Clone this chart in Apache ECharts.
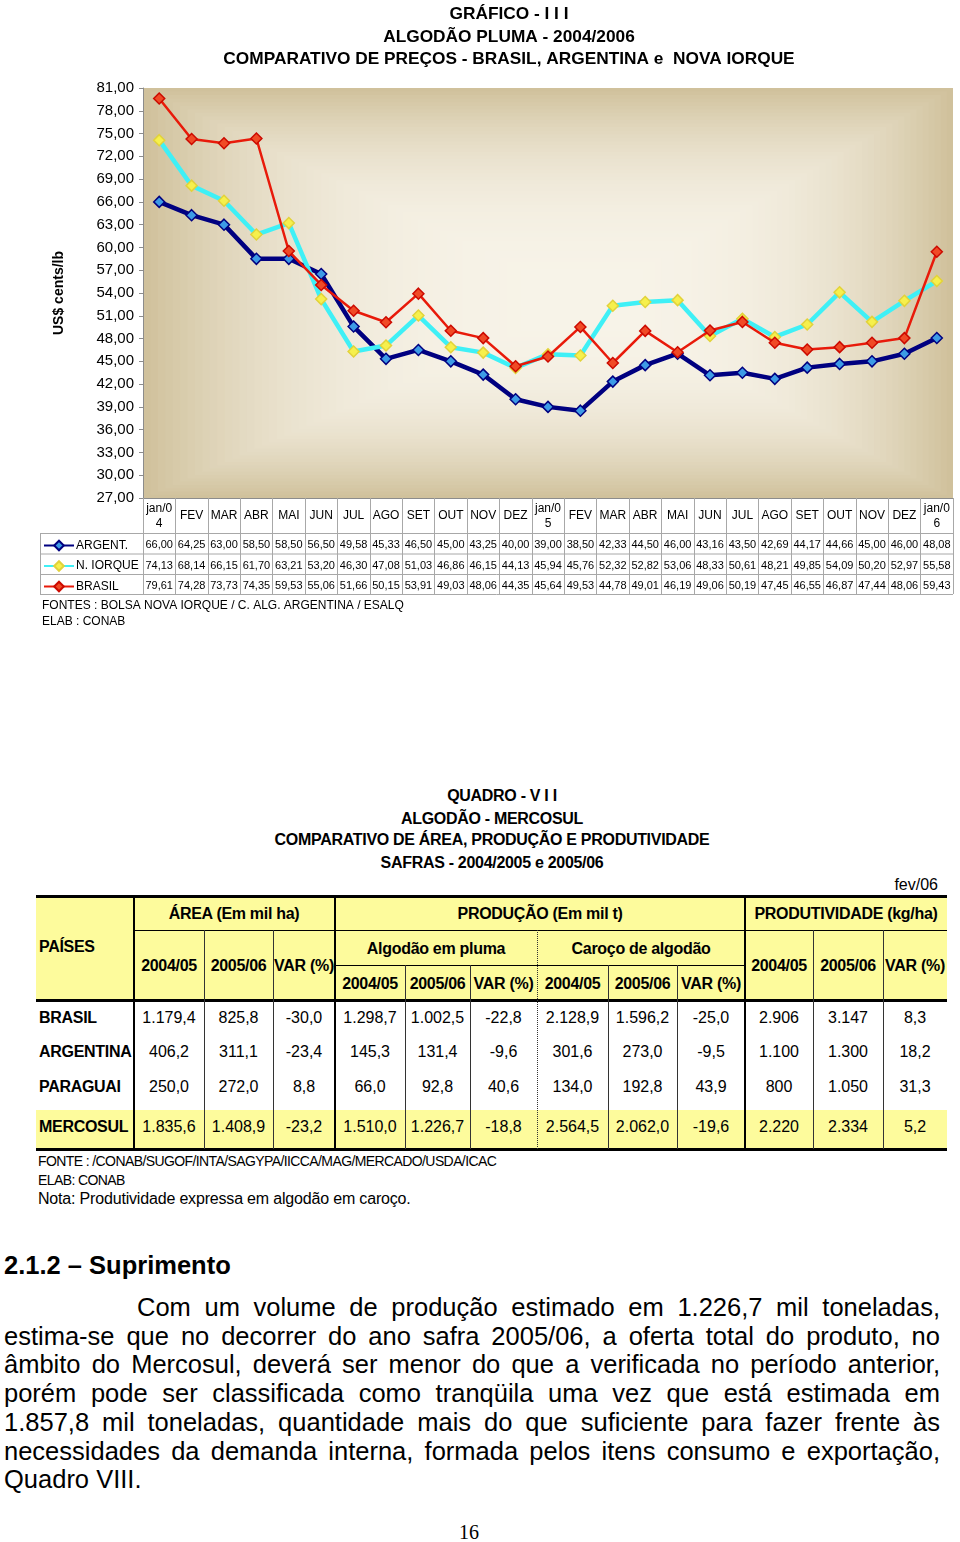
<!DOCTYPE html>
<html><head><meta charset="utf-8">
<script src="https://cdn.jsdelivr.net/npm/echarts@6/dist/echarts.min.js"></script>
<style>
body{margin:0;background:#fff;width:960px;height:1542px;position:relative;overflow:hidden;font-family:'Liberation Sans',Arial,sans-serif;color:#000}
#chart{position:absolute;left:0;top:0;width:960px;height:640px}
.t{position:absolute;white-space:nowrap;line-height:1}
.ln{position:absolute;background:#000}
</style></head><body>
<div id="chart"></div>
<div id="doc"></div>
<script>
// ---------- chart data ----------
const categories = ['jan/0\n4','FEV','MAR','ABR','MAI','JUN','JUL','AGO','SET','OUT','NOV','DEZ',
  'jan/0\n5','FEV','MAR','ABR','MAI','JUN','JUL','AGO','SET','OUT','NOV','DEZ','jan/0\n6'];
const argent = [66.00,64.25,63.00,58.50,58.50,56.50,49.58,45.33,46.50,45.00,43.25,40.00,39.00,38.50,42.33,44.50,46.00,43.16,43.50,42.69,44.17,44.66,45.00,46.00,48.08];
const novaIorque = [74.13,68.14,66.15,61.70,63.21,53.20,46.30,47.08,51.03,46.86,46.15,44.13,45.94,45.76,52.32,52.82,53.06,48.33,50.61,48.21,49.85,54.09,50.20,52.97,55.58];
const brasil = [79.61,74.28,73.73,74.35,59.53,55.06,51.66,50.15,53.91,49.03,48.06,44.35,45.64,49.53,44.78,49.01,46.19,49.06,50.19,47.45,46.55,46.87,47.44,48.06,59.43];
const seriesNames = ['ARGENT.','N. IORQUE','BRASIL'];
const yMin = 27, yMax = 81, yStep = 3;

// ---------- quadro data ----------
const paises = ['BRASIL','ARGENTINA','PARAGUAI'];
const area0405 = [1179.4, 406.2, 250.0];
const area0506 = [825.8, 311.1, 272.0];
const areaVar = [-30.0, -23.4, 8.8];
const pluma0405 = [1298.7, 145.3, 66.0];
const pluma0506 = [1002.5, 131.4, 92.8];
const plumaVar = [-22.8, -9.6, 40.6];
const caroco0405 = [2128.9, 301.6, 134.0];
const caroco0506 = [1596.2, 273.0, 192.8];
const carocoVar = [-25.0, -9.5, 43.9];
const prod0405 = [2906, 1100, 800];
const prod0506 = [3147, 1300, 1050];
const prodVar = [8.3, 18.2, 31.3];
const mercosul = [1835.6, 1408.9, -23.2, 1510.0, 1226.7, -18.8, 2564.5, 2062.0, -19.6, 2220, 2334, 5.2];

const FONT = "'Liberation Sans', Arial, sans-serif";
const fmt2 = v => v.toFixed(2).replace('.', ',');
function fmtBR(v, dec){
  const neg = v < 0; let s = Math.abs(v).toFixed(dec);
  let [i, d] = s.split('.');
  i = i.replace(/\B(?=(\d{3})+(?!\d))/g, '.');
  return (neg ? '-' : '') + i + (d !== undefined ? ',' + d : '');
}

const G = {left:143, top:88, width:810, height:410};
const chart = echarts.init(document.getElementById('chart'), null, {renderer:'canvas'});
const mk = (name, data, line, lw, fill, border, z) => ({
  name, type:'line', data, symbol:'diamond', symbolSize:11, z,
  lineStyle:{color:line, width:lw}, itemStyle:{color:fill, borderColor:border, borderWidth:1.5},
  emphasis:{disabled:true}
});
chart.setOption({
  animation:false,
  grid:{left:G.left, top:G.top, width:G.width, height:G.height},
  xAxis:{type:'category', data:categories, boundaryGap:true,
    axisLine:{lineStyle:{color:'#8c8c8c'}},
    axisTick:{show:true, interval:0, length:96, lineStyle:{color:'#a8a8a8'}},
    axisLabel:{interval:0, fontSize:12, lineHeight:15, color:'#000', fontFamily:FONT, margin:18, verticalAlign:'middle'}},
  yAxis:{type:'value', min:yMin, max:yMax, interval:yStep,
    name:'US$ cents/lb', nameLocation:'middle', nameGap:77, nameRotate:90,
    nameTextStyle:{fontWeight:'bold', fontSize:14, color:'#000', fontFamily:FONT},
    axisLine:{show:true, lineStyle:{color:'#8c8c8c'}},
    axisTick:{show:true, length:4, lineStyle:{color:'#8c8c8c'}},
    splitLine:{show:false},
    axisLabel:{formatter:v => fmt2(v), fontSize:15, color:'#000', fontFamily:FONT, margin:9}},
  legend:{orient:'vertical', left:43, top:539.5, itemWidth:30, itemHeight:12, itemGap:8.5, padding:0,
    selectedMode:false, data:seriesNames,
    textStyle:{fontSize:12, color:'#000', fontFamily:FONT, padding:[0,0,0,-3]}},
  series:[
    mk(seriesNames[0], argent, '#000080', 4.5, '#3d9be6', '#000080', 3),
    mk(seriesNames[1], novaIorque, '#3ff0f6', 4.5, '#f6f04c', '#e2d23a', 4),
    mk(seriesNames[2], brasil, '#e81a0a', 2.5, '#f04a26', '#cc0a00', 5)
  ]
});

// ---------- graphic: background, titles, data table ----------
const els = [];
const edge = [208,193,156], centre = [247,243,232];
const cx = G.left + G.width*0.55, cy = G.top + G.height*0.52;
const N = 60;
for (let k = 0; k < N; k++){
  const t = k/N;
  const e = 1 - Math.pow(1 - t, 2.8);
  const c = edge.map((a,j) => Math.round(a + (centre[j]-a)*e));
  const x1 = G.left + t*(cx - G.left), x2 = G.left + G.width - t*(G.left + G.width - cx);
  const y1 = G.top + t*(cy - G.top), y2 = G.top + G.height - t*(G.top + G.height - cy);
  els.push({type:'rect', z:-5, silent:true, shape:{x:x1, y:y1, width:x2-x1, height:y2-y1}, style:{fill:`rgb(${c})`}});
}
const titles = ['GRÁFICO - I I I','ALGODÃO PLUMA - 2004/2006','COMPARATIVO DE PREÇOS - BRASIL, ARGENTINA e  NOVA IORQUE'];
titles.forEach((s,i) => els.push({type:'text', x:509, y:14.5 + i*22.5, style:{text:s, fill:'#000', font:`bold 17.3px ${FONT}`, align:'center', verticalAlign:'middle'}}));
const rowY = [545, 565.5, 585.5];
const rowLines = [533.5, 554, 574.5, 594.5];
rowLines.forEach(y => els.push({type:'line', shape:{x1:40, y1:y, x2:G.left + G.width, y2:y}, style:{stroke:'#a8a8a8', lineWidth:1}}));
els.push({type:'line', shape:{x1:40.5, y1:rowLines[0], x2:40.5, y2:rowLines[3]}, style:{stroke:'#a8a8a8', lineWidth:1}});
[argent, novaIorque, brasil].forEach((arr, r) => {
  arr.forEach((v, i) => {
    const x = chart.convertToPixel({xAxisIndex:0}, i);
    els.push({type:'text', x, y:rowY[r], style:{text:fmt2(v), fill:'#000', font:`11px ${FONT}`, align:'center', verticalAlign:'middle'}});
  });
});
els.push({type:'text', x:42, y:606, style:{text:'FONTES : BOLSA NOVA IORQUE / C. ALG. ARGENTINA / ESALQ', fill:'#000', font:`12px ${FONT}`, align:'left', verticalAlign:'middle'}});
els.push({type:'text', x:42, y:622, style:{text:'ELAB : CONAB', fill:'#000', font:`12px ${FONT}`, align:'left', verticalAlign:'middle'}});
chart.setOption({graphic:{elements:els}});

// ---------- document part (quadro + text) ----------
const doc = document.getElementById('doc');
function txt(s, x, y, css, align){
  const d = document.createElement('div');
  d.className = 't'; d.textContent = s;
  d.style.left = x + 'px'; d.style.top = y + 'px';
  const tx = align === 'left' ? '0' : align === 'right' ? '-100%' : '-50%';
  d.style.transform = `translate(${tx},-50%)`;
  if (css) d.style.cssText += css;
  doc.appendChild(d); return d;
}
function rect(x, y, w, h, color, extra){
  const d = document.createElement('div');
  d.className = 'ln';
  d.style.cssText += `left:${x}px;top:${y}px;width:${w}px;height:${h}px;background:${color};` + (extra||'');
  doc.appendChild(d); return d;
}
const B16 = 'font-weight:bold;font-size:16px;letter-spacing:-0.3px;';
const R16 = 'font-size:16px;';
txt('QUADRO - V I I', 502, 796, B16);
txt('ALGODÃO - MERCOSUL', 492, 819, B16);
txt('COMPARATIVO DE ÁREA, PRODUÇÃO E PRODUTIVIDADE', 492, 840, B16);
txt('SAFRAS - 2004/2005 e 2005/06', 492, 863, B16);
txt('fev/06', 938, 885, R16, 'right');

const L = 36, R = 947;
const colX = [36,134,204,273,335,405,470,537,608,677,745,813,883,947];
const mid = i => (colX[i] + colX[i+1]) / 2;
rect(L, 896, R-L, 104, '#fdfb9c');
rect(L, 1110, R-L, 39, '#fdfb9c');
rect(L, 895, R-L, 2.5, '#000');
rect(134, 929.5, R-134, 1.5, '#000');
rect(335, 964.5, 745-335, 1.5, '#000');
rect(L, 999, R-L, 2.5, '#000');
rect(L, 1148, R-L, 2.5, '#000');
[134, 335, 745].forEach(x => rect(x-1, 896, 2, 1253-1000, '#000'));
[204, 273, 813, 883].forEach(x => rect(x-0.5, 930, 1, 1149-930, '#333'));
[405, 470, 608, 677].forEach(x => rect(x-0.5, 965, 1, 1149-965, '#333'));
rect(536.5, 930, 0, 1149-930, 'transparent', 'border-left:1px dotted #333;');
txt('PAÍSES', 39, 947, B16, 'left');
txt('ÁREA (Em mil ha)', 234, 914, B16);
txt('PRODUÇÃO (Em mil t)', 540, 914, B16);
txt('PRODUTIVIDADE (kg/ha)', 846, 914, B16);
txt('Algodão em pluma', 436, 949, B16);
txt('Caroço de algodão', 641, 949, B16);
const yrs = ['2004/05','2005/06','VAR (%)'];
[1,2,3].forEach((c,k) => txt(yrs[k], mid(c), 966, B16));
[4,5,6].forEach((c,k) => txt(yrs[k], mid(c), 984, B16));
[7,8,9].forEach((c,k) => txt(yrs[k], mid(c), 984, B16));
[10,11,12].forEach((c,k) => txt(yrs[k], mid(c), 966, B16));
const dataRowY = [1018, 1052, 1087];
paises.forEach((p, r) => {
  const vals = [fmtBR(area0405[r],1), fmtBR(area0506[r],1), fmtBR(areaVar[r],1),
    fmtBR(pluma0405[r],1), fmtBR(pluma0506[r],1), fmtBR(plumaVar[r],1),
    fmtBR(caroco0405[r],1), fmtBR(caroco0506[r],1), fmtBR(carocoVar[r],1),
    fmtBR(prod0405[r],0), fmtBR(prod0506[r],0), fmtBR(prodVar[r],1)];
  txt(p, 39, dataRowY[r], B16, 'left');
  vals.forEach((s, k) => txt(s, mid(k+1), dataRowY[r], R16));
});
txt('MERCOSUL', 39, 1127, B16, 'left');
mercosul.forEach((v, k) => {
  const dec = (k === 9 || k === 10) ? 0 : 1;
  txt(fmtBR(v, dec), mid(k+1), 1127, R16);
});
txt('FONTE : /CONAB/SUGOF/INTA/SAGYPA/IICCA/MAG/MERCADO/USDA/ICAC', 38, 1161, 'font-size:14px;letter-spacing:-0.6px;', 'left');
txt('ELAB: CONAB', 38, 1180, 'font-size:14px;letter-spacing:-0.6px;', 'left');
txt('Nota: Produtividade expressa em algodão em caroço.', 38, 1199, 'font-size:16px;letter-spacing:-0.18px;', 'left');
txt('2.1.2 – Suprimento', 4, 1266, 'font-weight:bold;font-size:25.5px;', 'left');
const para = [
  'Com um volume de produção estimado em 1.226,7 mil toneladas,',
  'estima-se que no decorrer do ano safra 2005/06, a oferta total do produto, no',
  'âmbito do Mercosul, deverá ser menor do que a verificada no período anterior,',
  'porém pode ser classificada como tranqüila uma vez que está estimada em',
  '1.857,8 mil toneladas, quantidade mais do que suficiente para fazer frente às',
  'necessidades da demanda interna, formada pelos itens consumo e exportação,',
  'Quadro VIII.'
];
para.forEach((s, i) => {
  const d = document.createElement('div');
  d.textContent = s;
  const left = i === 0 ? 137 : 4;
  const last = i === para.length - 1;
  d.style.cssText = `position:absolute;left:${left}px;top:${1307 + i*28.7 - 14}px;width:${940-left}px;height:28px;line-height:28px;font-size:25.5px;white-space:nowrap;` +
    (last ? 'text-align:left;' : 'text-align:justify;text-align-last:justify;');
  doc.appendChild(d);
});
txt('16', 469, 1532, "font-family:'Liberation Serif','Times New Roman',serif;font-size:20px;");
</script></body></html>
